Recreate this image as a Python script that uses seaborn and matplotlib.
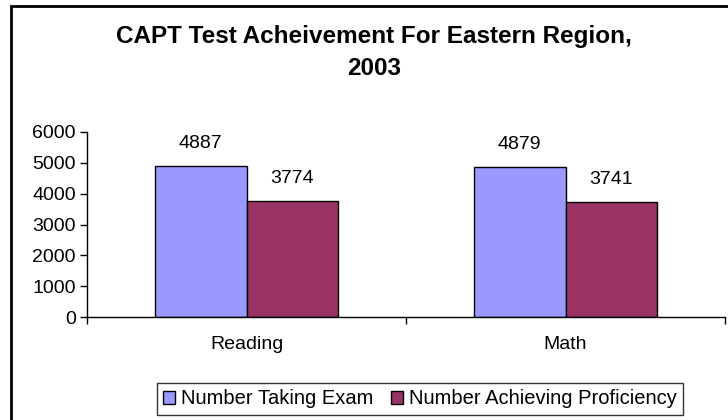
import matplotlib
matplotlib.use("Agg")
import matplotlib.pyplot as plt
import seaborn as sns
import pandas as pd
from matplotlib.patches import Rectangle

subjects = ["Reading", "Math"]
taking_exam = [4887, 4879]
achieving = [3774, 3741]
series_names = ["Number Taking Exam", "Number Achieving Proficiency"]
y_ticks = [0, 1000, 2000, 3000, 4000, 5000, 6000]

data = pd.DataFrame({
    "subject": subjects * 2,
    "count": taking_exam + achieving,
    "series": [series_names[0]] * len(subjects) + [series_names[1]] * len(subjects),
})

sns.set_style("white")
plt.rcParams["font.family"] = ["Liberation Sans", "DejaVu Sans"]
plt.rcParams["text.color"] = "black"
plt.rcParams["xtick.color"] = "black"
plt.rcParams["ytick.color"] = "black"

fig = plt.figure(figsize=(7.28, 4.2), dpi=100)
ax = fig.add_axes([87 / 728, 1 - 317 / 420, (725 - 87) / 728, (317 - 132) / 420])

sns.barplot(data=data, x="subject", y="count", hue="series",
            palette=["#9999FF", "#993366"], width=0.575,
            edgecolor="black", linewidth=1, saturation=1, ax=ax)

for c in ax.containers:
    ax.bar_label(c, padding=10, fontsize=14, color="black")

ax.set_xlim(-0.5, 1.5)
ax.set_ylim(0, 6000)
ax.set_yticks(y_ticks)
ax.set_xlabel("")
ax.set_ylabel("")
ax.tick_params(axis="y", labelsize=14, length=5, width=1, color="black",
               labelcolor="black", direction="out", left=True, pad=3)
ax.tick_params(axis="x", labelsize=14, length=0, pad=14, labelcolor="black")
ax.set_xticks([-0.5, 0.5, 1.5], minor=True)
ax.tick_params(axis="x", which="minor", length=5, width=1, color="black",
               direction="out", bottom=True)

for side in ["top", "right"]:
    ax.spines[side].set_visible(False)
for side in ["left", "bottom"]:
    ax.spines[side].set_color("black")
    ax.spines[side].set_linewidth(1)

ax.get_legend().remove()
handles, labels = ax.get_legend_handles_labels()
leg = fig.legend(handles, labels, loc="center", ncol=2,
                 bbox_to_anchor=(420 / 728, 1 - 399 / 420),
                 fontsize=14.5, frameon=True, fancybox=False, edgecolor="black",
                 handlelength=0.6, handleheight=0.6, handletextpad=0.3,
                 columnspacing=0.9, borderpad=0.3, borderaxespad=0)
leg.get_frame().set_linewidth(1)

fig.text(374 / 728, 1 - 25 / 420,
         "CAPT Test Acheivement For Eastern Region,\n2003",
         ha="center", va="top", fontsize=17.5, fontweight="bold",
         color="black", linespacing=1.5)

# outer chart border, running past the right and bottom edges
fig.patches.append(Rectangle((11 / 728, -0.1), 1.0, 1 - 6 / 420 + 0.1,
                             transform=fig.transFigure, fill=False,
                             edgecolor="black", linewidth=2))

fig.savefig("out.png", dpi=100)
